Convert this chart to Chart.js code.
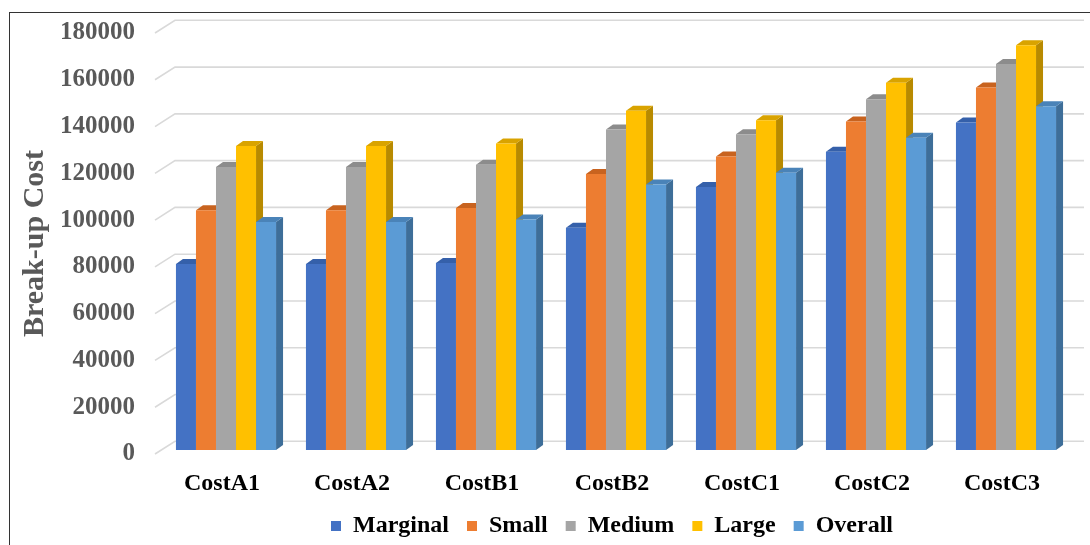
<!DOCTYPE html>
<html>
<head>
<meta charset="utf-8">
<script src="https://cdn.jsdelivr.net/npm/chart.js@4"></script>
<style>
  body { margin: 0; background: #fff; }
  #wrap { position: relative; width: 1090px; height: 545px; }
  #frame { position: absolute; left: 9px; top: 12px; right: 0; bottom: 0; border-left: 1.5px solid #333; border-top: 1.5px solid #333; pointer-events: none; }
</style>
</head>
<body>
<div id="wrap">
  <canvas id="chart" width="1090" height="545"></canvas>
  <div id="frame"></div>
</div>
<script>
const categories = ["CostA1", "CostA2", "CostB1", "CostB2", "CostC1", "CostC2", "CostC3"];
const marginal = [79500, 79500, 80000, 95000, 112500, 127500, 140000];
const small = [102500, 102500, 103500, 118000, 125500, 140500, 155000];
const medium = [121000, 121000, 122000, 137000, 135000, 150000, 165000];
const large = [130000, 130000, 131000, 145000, 141000, 157000, 173000];
const overall = [97500, 97500, 98500, 113500, 118500, 133500, 147000];
const yTicks = [0, 20000, 40000, 60000, 80000, 100000, 120000, 140000, 160000, 180000];

const seriesNames = ["Marginal", "Small", "Medium", "Large", "Overall"];
const seriesData = [marginal, small, medium, large, overall];
const colors = ["#4472C4", "#ED7D31", "#A5A5A5", "#FFC000", "#5B9BD5"];
const sideColors = ["#2F5597", "#B85F22", "#7F7F7F", "#B88A00", "#3E6E99"];
const topColors = ["#3560AA", "#C8631F", "#8C8C8C", "#D9A300", "#4A83B8"];

const serif = "'Liberation Serif', 'Times New Roman', serif";
const DX = 7, DY = -5;        // bar depth
const SHIFT_X = 4, SHIFT_Y = -4;

const gridBack = {
  id: "gridBack",
  beforeDatasetsDraw(chart) {
    const ctx = chart.ctx;
    const y = chart.scales.y;
    const left = chart.chartArea.left - 2;
    ctx.save();
    ctx.strokeStyle = "#d9d9d9";
    ctx.lineWidth = 1.6;
    yTicks.forEach((v) => {
      const py = y.getPixelForValue(v);
      ctx.beginPath();
      ctx.moveTo(left, py);
      ctx.lineTo(left + 20, py - 12.7);
      ctx.lineTo(1084, py - 12.7);
      ctx.stroke();
    });
    ctx.restore();

    // bar depth faces, drawn before the fronts
    ctx.save();
    ctx.translate(SHIFT_X, SHIFT_Y);
    const metas = chart.data.datasets.map((d, i) => chart.getDatasetMeta(i));
    categories.forEach((c, ci) => {
      metas.forEach((meta, si) => {
        const el = meta.data[ci];
        if (!el) return;
        const p = el.getProps(["x", "y", "base", "width"], true);
        const l = p.x - p.width / 2, r = p.x + p.width / 2;
        ctx.fillStyle = sideColors[si];
        ctx.beginPath();
        ctx.moveTo(r, p.y);
        ctx.lineTo(r + DX, p.y + DY);
        ctx.lineTo(r + DX, p.base + DY);
        ctx.lineTo(r, p.base);
        ctx.closePath();
        ctx.fill();
        ctx.fillStyle = topColors[si];
        ctx.beginPath();
        ctx.moveTo(l, p.y);
        ctx.lineTo(l + DX, p.y + DY);
        ctx.lineTo(r + DX, p.y + DY);
        ctx.lineTo(r, p.y);
        ctx.closePath();
        ctx.fill();
      });
    });
  },
  afterDatasetsDraw(chart) {
    chart.ctx.restore();
  },
};

new Chart(document.getElementById("chart"), {
  type: "bar",
  data: {
    labels: categories,
    datasets: seriesNames.map((name, i) => ({
      label: name,
      data: seriesData[i],
      backgroundColor: colors[i],
      borderWidth: 0,
      categoryPercentage: 0.77,
      barPercentage: 1,
    })),
  },
  options: {
    responsive: false,
    animation: false,
    layout: { padding: { left: 10, right: 23, top: 33, bottom: -3 } },
    plugins: {
      tooltip: { enabled: false },
      legend: {
        position: "bottom",
        fullSize: false,
        labels: {
          boxWidth: 10,
          boxHeight: 10,
          padding: 18,
          color: "#000",
          font: { family: serif, size: 24, weight: "bold" },
        },
      },
    },
    scales: {
      x: {
        grid: { display: false },
        border: { display: false },
        ticks: {
          color: "#000",
          padding: 7,
          font: { family: serif, size: 24, weight: "bold" },
        },
        afterFit(axis) { axis.height = 42; },
      },
      y: {
        min: 0,
        max: 180000,
        grid: { display: false },
        border: { display: false },
        ticks: {
          stepSize: 20000,
          padding: 14,
          color: "#595959",
          font: { family: serif, size: 25, weight: "bold" },
          callback: (v) => String(v),
        },
        title: {
          display: true,
          text: "Break-up Cost",
          color: "#595959",
          padding: { top: 7, bottom: 0 },
          font: { family: serif, size: 30, weight: "bold" },
        },
        afterFit(axis) { axis.width = 147; },
      },
    },
  },
  plugins: [gridBack],
});
</script>
</body>
</html>
